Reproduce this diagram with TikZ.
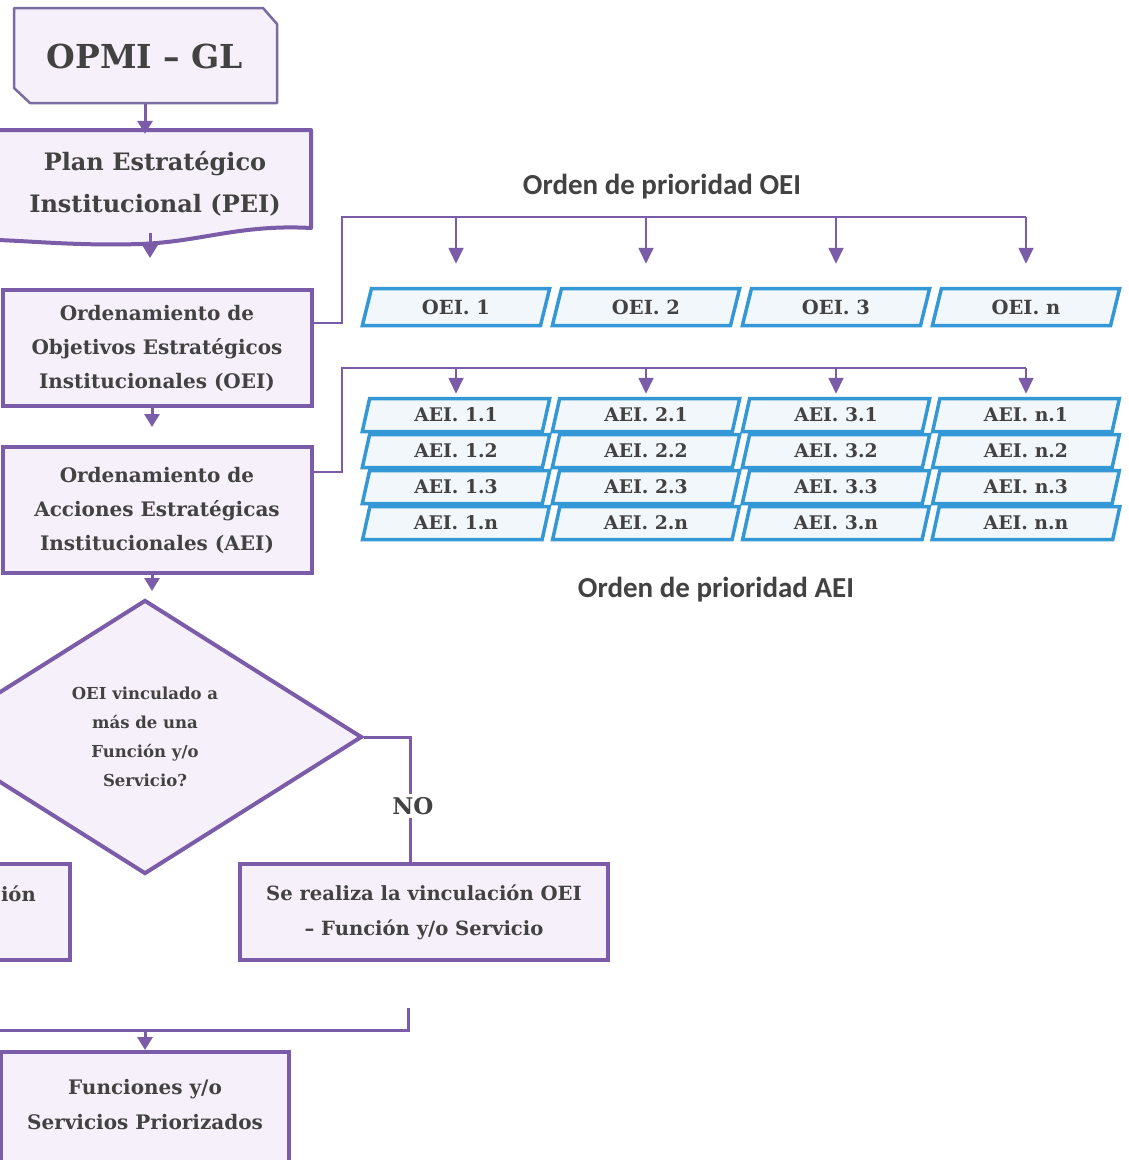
\documentclass[tikz,border=0pt]{standalone}
\usepackage{fontspec}
\setmainfont{DejaVu Serif}
\newfontfamily\hdrfont{Carlito}
\usetikzlibrary{arrows.meta,shapes.geometric,calc}
\definecolor{purp}{RGB}{122,92,168}
\definecolor{purpg}{RGB}{120,108,160}
\definecolor{lav}{RGB}{246,240,250}
\definecolor{blub}{RGB}{52,152,214}
\definecolor{bluf}{RGB}{242,247,251}
\definecolor{txt}{RGB}{66,66,66}
\begin{document}
\begin{tikzpicture}[x=1pt,y=-1pt,
  box/.style={draw=purp, line width=4pt, fill=lav, text=txt, align=center, inner sep=0pt, font=\bfseries\fontsize{20}{34}\selectfont},
  txtonly/.style={text=txt, align=center, inner sep=0pt},
  par/.style={trapezium, trapezium left angle=76, trapezium right angle=104, trapezium stretches=true, draw=blub, line width=3.5pt, fill=bluf, text=txt, minimum width=188pt, inner sep=0pt},
  oeibox/.style={par, minimum height=37pt, font=\bfseries\fontsize{19.5}{22}\selectfont},
  aeibox/.style={par, minimum height=33pt, font=\bfseries\fontsize{18.8}{22}\selectfont},
  flow/.style={draw=purp, line width=3pt, -{Triangle[width=15pt,length=13pt]}},
  busline/.style={draw=purp, line width=1.8pt},
  busarr/.style={busline, -{Triangle[width=15pt,length=16pt]}},
  thickline/.style={draw=purp, line width=3pt},
  hdr/.style={text=txt, inner sep=0pt, font=\hdrfont\bfseries\fontsize{29}{34}\selectfont}
]
\useasboundingbox (0,0) rectangle (1128,1160);
\fill[white] (0,0) rectangle (1128,1160);

% ---- OPMI - GL (chamfered box)
\filldraw[draw=purpg, fill=lav, line width=2.5pt, line join=round]
  (14,8) -- (263,8) -- (277,24) -- (277,103) -- (30,103) -- (14,88) -- cycle;
\node[txtonly, minimum width=263pt, minimum height=95pt, font=\bfseries\fontsize{33}{40}\selectfont] (opmi) at (145,56) {OPMI -- GL};

% ---- PEI (document shape)
\filldraw[draw=purp, fill=lav, line width=4pt, line join=round]
  (-3,130) -- (311,130) -- (311,228)
  .. controls (240,224) and (200,242) .. (140,244)
  .. controls (80,246) and (30,241) .. (-3,240) -- cycle;
\node[txtonly, minimum width=316pt, minimum height=100pt, font=\bfseries\fontsize{24}{42}\selectfont] (pei) at (155,184) {Plan Estratégico\\Institucional (PEI)};

% ---- ordering boxes
\node[box, minimum width=309pt, minimum height=116pt] (oeiord) at (157,348) {Ordenamiento de\\Objetivos Estratégicos\\Institucionales (OEI)};
\node[box, minimum width=309pt, minimum height=126pt] (aeiord) at (157,510) {Ordenamiento de\\Acciones Estratégicas\\Institucionales (AEI)};

% ---- decision
\node[diamond, draw=purp, line width=4pt, fill=lav, text=txt, align=center, inner sep=0pt,
      minimum width=434pt, minimum height=274pt, font=\bfseries\fontsize{16.5}{29}\selectfont] (dec) at (145,737)
  {OEI vinculado a\\más de una\\Función y/o\\Servicio?};

% ---- lower boxes
\node[box, font=\bfseries\fontsize{19.6}{35}\selectfont, minimum width=368pt, minimum height=96pt] (se) at (424,912) {Se realiza la vinculación OEI\\-- Función y/o Servicio};
\node[box, minimum width=360pt, minimum height=96pt] (lbox) at (-110,912) {};
\node[txtonly, anchor=east, font=\bfseries\fontsize{19.6}{35}\selectfont] (lboxtxt) at (36,894) {ión};
\node[box, font=\bfseries\fontsize{20}{35}\selectfont, minimum width=288pt, minimum height=116pt] (fun) at (145,1110) {Funciones y/o\\Servicios Priorizados\\[-23pt]\mbox{}};

% ---- main flow arrows
\draw[flow] (opmi.south) -- (opmi.south |- pei.north);
\draw[flow, shorten >=30pt] (150,233) -- (oeiord.north -| 150,0);
\draw[flow, shorten >=18pt] (oeiord.south -| 152,0) -- (aeiord.north -| 152,0);
\draw[flow, shorten >=7pt] (aeiord.south -| 152,0) -- (dec.north -| 152,0);

% ---- NO branch
\draw[thickline] (dec.east) -| ($(se.north)+(-14,0)$);
\node[txtonly, fill=white, inner sep=3pt, font=\bfseries\fontsize{23}{26}\selectfont] (nolab) at (413,806) {NO};

% ---- join to final box
\coordinate (j1) at (408,1008);
\coordinate (j2) at (408,1030);
\coordinate (j3) at (-5,1030);
\draw[thickline] (j1) -- (j2) -- (j3);
\draw[flow] (fun.north |- j2) -- (fun.north);

% ---- OEI priority
\node[hdr] (hO) at (662,187) {Orden de prioridad OEI};
\node[oeibox] (oei1) at (456,307) {OEI. 1};
\node[oeibox] (oei2) at (646,307) {OEI. 2};
\node[oeibox] (oei3) at (836,307) {OEI. 3};
\node[oeibox] (oein) at (1026,307) {OEI. n};
\coordinate (bO) at (342,217);
\draw[busline] ([yshift=25pt]oeiord.east) -| (bO) -- (bO -| oein.north);
\foreach \n in {oei1,oei2,oei3,oein}
  \draw[busarr, shorten >=23pt] (bO -| \n.north) -- (\n.north);

% ---- AEI priority
\foreach \c/\cx in {1/456,2/646,3/836,n/1026}{
  \node[aeibox] (aei\c1) at (\cx,415) {AEI. \c.1};
  \node[aeibox] (aei\c2) at (\cx,451) {AEI. \c.2};
  \node[aeibox] (aei\c3) at (\cx,487) {AEI. \c.3};
  \node[aeibox] (aei\c n) at (\cx,523) {AEI. \c.n};
}
\coordinate (bA) at (342,368);
\draw[busline] ([yshift=38pt]aeiord.east) -| (bA) -- (bA -| aein1.north);
\foreach \n in {aei11,aei21,aei31,aein1}
  \draw[busarr, shorten >=3pt] (bA -| \n.north) -- (\n.north);
\node[hdr] (hA) at (716,590) {Orden de prioridad AEI};
\end{tikzpicture}
\end{document}
